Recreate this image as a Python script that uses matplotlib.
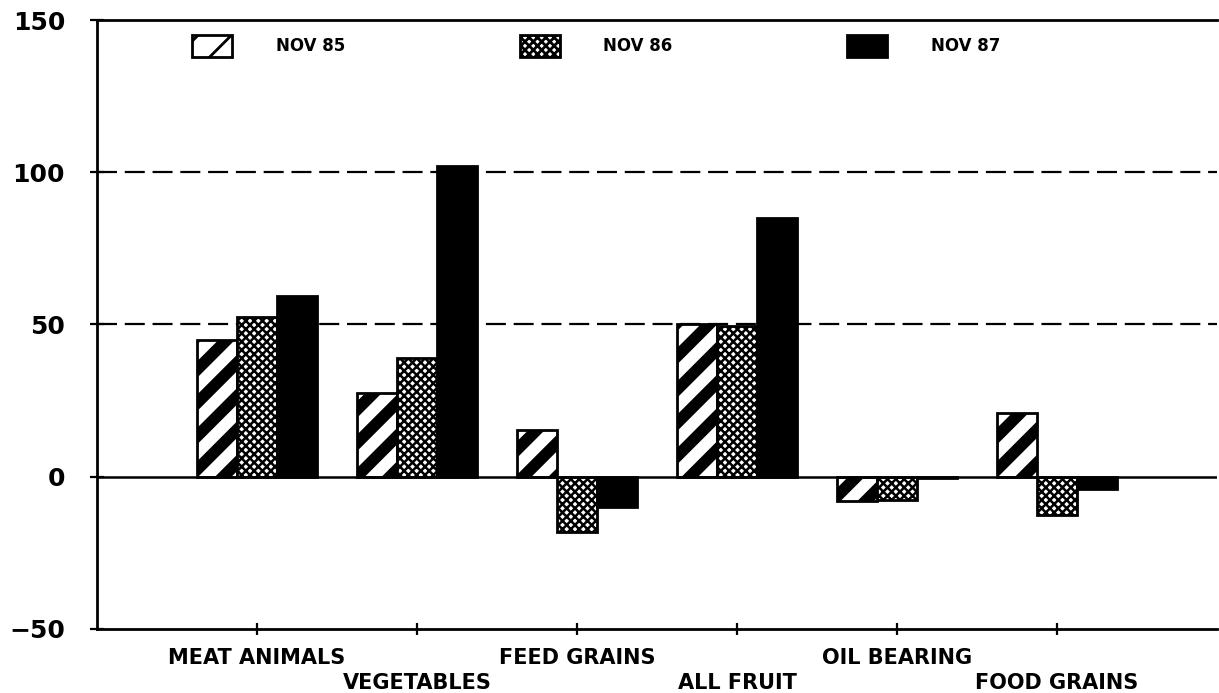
import numpy as np
import matplotlib
matplotlib.use('Agg')
import matplotlib.pyplot as plt

# data
categories = ['MEAT ANIMALS', 'VEGETABLES', 'FEED GRAINS', 'ALL FRUIT', 'OIL BEARING', 'FOOD GRAINS']
nov85 = [45, 27.5, 15.5, 50, -8, 21]
nov86 = [52.5, 39, -18, 49.5, -7.5, -12.5]
nov87 = [59.5, 102, -10, 85, -0.5, -4]
series_labels = ['NOV 85', 'NOV 86', 'NOV 87']

plt.rcParams['font.family'] = 'DejaVu Sans'
plt.rcParams['font.weight'] = 'bold'

dpi = 200
fig = plt.figure(figsize=(1219 / dpi, 693 / dpi), dpi=dpi)
ax = fig.add_axes([97 / 1219, 1 - 629 / 693, 1120 / 1219, 609 / 693])

x = np.arange(1, len(categories) + 1)
w = 0.25

# hatch styles: wide stripes, fine cross-hatch, solid black
styles = [
    dict(hatch='//', hlw=4.2, face='white'),
    dict(hatch='x' * 8, hlw=0.9, face='white'),
    dict(hatch=None, hlw=1.0, face='black'),
]
handles = []
for i, (vals, st) in enumerate(zip([nov85, nov86, nov87], styles)):
    with plt.rc_context({'hatch.linewidth': st['hlw'], 'hatch.color': 'black'}):
        bars = ax.bar(x + (i - 1) * w, vals, width=w, color=st['face'],
                      edgecolor='black', linewidth=1.0, hatch=st['hatch'],
                      label=series_labels[i], zorder=3)
        for b in bars:
            if hasattr(b, 'set_hatch_linewidth'):
                b.set_hatch_linewidth(st['hlw'])
    handles.append(bars)

ax.set_xlim(0, 7)
ax.set_ylim(-50, 150)
ax.set_yticks([-50, 0, 50, 100, 150])
ax.set_yticklabels(['\u221250', '0', '50', '100', '150'])

# gridlines
for yv in [50, 100]:
    ax.axhline(yv, color='black', linewidth=0.8, dashes=(9, 3.5), zorder=1)
ax.axhline(0, color='black', linewidth=0.9, zorder=4)

# staggered category labels
ax.set_xticks(x[::2])
ax.set_xticklabels(categories[::2])
ax.set_xticks(x[1::2], minor=True)
ax.set_xticklabels(categories[1::2], minor=True)
ax.tick_params(axis='x', which='both', direction='inout', length=4, width=0.8, labelsize=7.5)
ax.tick_params(axis='x', which='major', pad=5)
ax.tick_params(axis='x', which='minor', pad=14)
ax.tick_params(axis='y', direction='inout', length=5, width=0.8, labelsize=9, pad=9)

for s in ['left', 'top', 'bottom']:
    ax.spines[s].set_linewidth(1.0)
ax.spines['right'].set_visible(False)

ax.legend(handles=handles, labels=series_labels, loc='upper left',
          bbox_to_anchor=(0.085, 0.975), ncol=3, frameon=False,
          handlelength=2.4, handleheight=1.6, handletextpad=2.6,
          columnspacing=10.5, borderpad=0, borderaxespad=0,
          prop={'size': 6, 'weight': 'bold'})

fig.savefig('out.png', dpi=dpi)
